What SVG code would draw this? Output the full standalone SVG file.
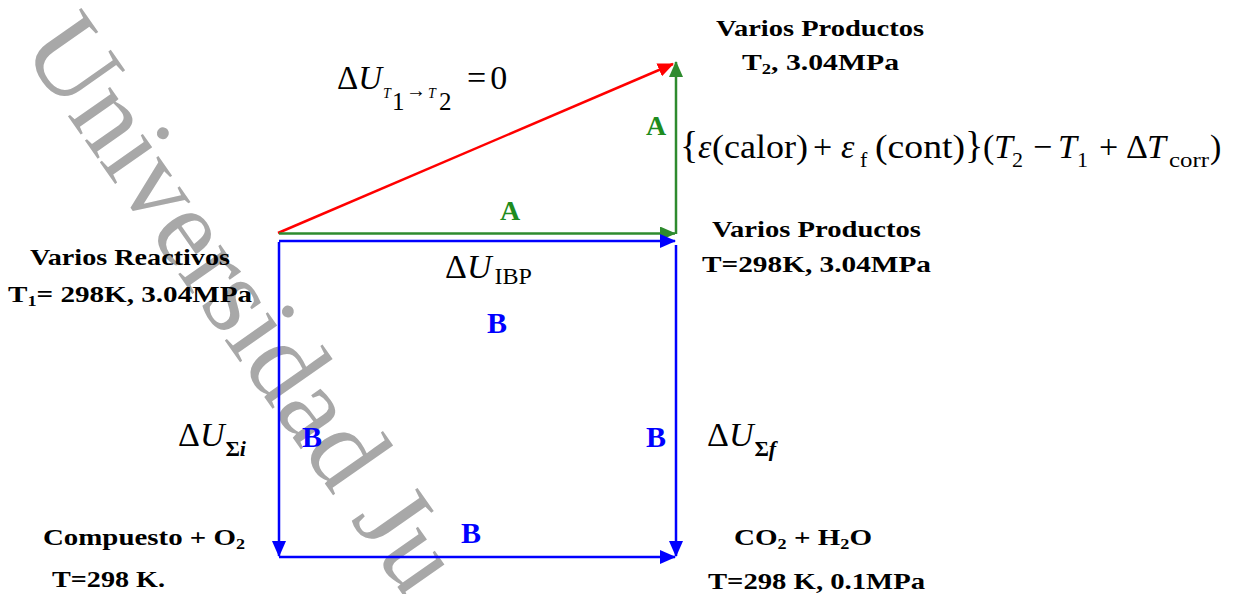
<svg xmlns="http://www.w3.org/2000/svg" width="1234" height="594" viewBox="0 0 1234 594">
<defs>
<marker id="ah-red" markerUnits="userSpaceOnUse" viewBox="0 0 16 14" refX="15" refY="7" markerWidth="16" markerHeight="14" orient="auto"><path d="M0,0 L16,7 L0,14 z" fill="#ff0000"/></marker>
<marker id="ah-green" markerUnits="userSpaceOnUse" viewBox="0 0 16 14" refX="15" refY="7" markerWidth="16" markerHeight="14" orient="auto"><path d="M0,0 L16,7 L0,14 z" fill="#2e8b2e"/></marker>
<marker id="ah-blue" markerUnits="userSpaceOnUse" viewBox="0 0 16 14" refX="15" refY="7" markerWidth="16" markerHeight="14" orient="auto"><path d="M0,0 L16,7 L0,14 z" fill="#0000ff"/></marker>
</defs>
<style>
text{font-family:'Liberation Serif','DejaVu Serif','Times New Roman',serif}
.lbl{font-weight:bold;font-size:24px;fill:#000}
.math{font-size:34px;fill:#000}
.it{font-style:italic}
.A{font-weight:bold;font-size:28px;fill:#1e8c1e;text-anchor:middle}
.B{font-weight:bold;font-size:30px;fill:#0000ff;text-anchor:middle}
.wm{font-size:112px;fill:#a8a8a8}
.ln{fill:none;stroke-width:2.5}
.red{stroke:#ff0000}
.green{stroke:#2e8b2e}
.blue{stroke:#0000ff}
</style>
<rect width="1234" height="594" fill="#ffffff"/>
<g id="watermark">
<text class="wm" transform="translate(20,48) rotate(55)">Universidad Ju</text>
</g>
<g id="connectors">
<path class="ln red" d="M278,233 L673,64" marker-end="url(#ah-red)"/>
<path class="ln green" d="M279,233.5 L675,233.5" marker-end="url(#ah-green)"/>
<path class="ln green" d="M676,234 L676,62" marker-end="url(#ah-green)"/>
<path class="ln blue" d="M279,241 L675,241" marker-end="url(#ah-blue)"/>
<path class="ln blue" d="M279,242 L279,556" marker-end="url(#ah-blue)"/>
<path class="ln blue" d="M279,557 L675,557" marker-end="url(#ah-blue)"/>
<path class="ln blue" d="M676,245 L676,556" marker-end="url(#ah-blue)"/>
</g>
<g id="node-productos-t2">
<text class="lbl" x="716" y="36" textLength="208" lengthAdjust="spacingAndGlyphs">Varios Productos</text>
<text class="lbl" x="742" y="70" textLength="157" lengthAdjust="spacingAndGlyphs">T<tspan font-size="15" dy="4">2</tspan><tspan dy="-4">, 3.04MPa</tspan></text>
</g>
<g id="node-productos-298">
<text class="lbl" x="712" y="237" textLength="209" lengthAdjust="spacingAndGlyphs">Varios Productos</text>
<text class="lbl" x="702" y="272" textLength="229" lengthAdjust="spacingAndGlyphs">T=298K, 3.04MPa</text>
</g>
<g id="node-reactivos">
<text class="lbl" x="30" y="265" textLength="200" lengthAdjust="spacingAndGlyphs">Varios Reactivos</text>
<text class="lbl" x="8" y="302" textLength="244" lengthAdjust="spacingAndGlyphs">T<tspan font-size="15" dy="4">1</tspan><tspan dy="-4">= 298K, 3.04MPa</tspan></text>
</g>
<g id="node-compuesto">
<text class="lbl" x="43" y="545" textLength="202" lengthAdjust="spacingAndGlyphs">Compuesto + O<tspan font-size="15" dy="4">2</tspan></text>
<text class="lbl" x="52" y="587" textLength="113" lengthAdjust="spacingAndGlyphs">T=298 K.</text>
</g>
<g id="node-co2">
<text class="lbl" x="734" y="545" textLength="138" lengthAdjust="spacingAndGlyphs">CO<tspan font-size="15" dy="4">2</tspan><tspan dy="-4"> + H</tspan><tspan font-size="15" dy="4">2</tspan><tspan dy="-4">O</tspan></text>
<text class="lbl" x="708" y="589" textLength="217" lengthAdjust="spacingAndGlyphs">T=298 K, 0.1MPa</text>
</g>
<g id="label-dU-T1T2">
<text class="math"><tspan x="337" y="89" font-size="33">Δ</tspan><tspan class="it" font-size="33">U</tspan><tspan class="it" x="383" y="98" font-size="14">T</tspan><tspan x="392" y="110" font-size="25">1</tspan><tspan x="406" y="97" font-size="20">→</tspan><tspan class="it" x="428" y="98" font-size="14">T</tspan><tspan x="439" y="110" font-size="25">2</tspan><tspan x="467" y="89" font-size="34" letter-spacing="4">=0</tspan></text>
</g>
<g id="label-formula">
<text class="math" font-size="36"><tspan x="680" y="158" font-size="38">{</tspan><tspan class="it" x="698" y="158">ε</tspan><tspan x="712" y="158" textLength="96" lengthAdjust="spacingAndGlyphs">(calor)</tspan><tspan x="813" y="158">+</tspan><tspan class="it" x="841" y="158">ε</tspan><tspan x="860" y="167" font-size="22">f</tspan><tspan x="875" y="158" textLength="90" lengthAdjust="spacingAndGlyphs">(cont)</tspan><tspan x="965" y="158" font-size="38">}</tspan><tspan x="983" y="158">(</tspan><tspan class="it" x="994" y="158">T</tspan><tspan x="1012" y="167" font-size="22">2</tspan><tspan x="1033" y="158">−</tspan><tspan class="it" x="1058" y="158">T</tspan><tspan x="1077" y="167" font-size="22">1</tspan><tspan x="1099" y="158">+</tspan><tspan x="1126" y="158">Δ</tspan><tspan class="it" x="1147" y="158">T</tspan><tspan x="1169" y="167" font-size="22" textLength="40" lengthAdjust="spacingAndGlyphs">corr</tspan><tspan x="1210" y="158">)</tspan></text>
</g>
<g id="label-dU-IBP">
<text class="math" font-size="38" x="445" y="278">Δ<tspan class="it">U</tspan><tspan dx="3" dy="6" font-size="24">IBP</tspan></text>
</g>
<g id="label-dU-Si">
<text class="math" font-size="38" x="178" y="446">Δ<tspan class="it">U</tspan><tspan dx="1" dy="10" font-size="22" font-weight="bold">Σ</tspan><tspan class="it" font-size="22" font-weight="bold">i</tspan></text>
</g>
<g id="label-dU-Sf">
<text class="math" font-size="38" x="707" y="446">Δ<tspan class="it">U</tspan><tspan dx="1" dy="10" font-size="22" font-weight="bold">Σ</tspan><tspan class="it" font-size="22" font-weight="bold">f</tspan></text>
</g>
<g id="labels-A">
<text class="A" x="510" y="220">A</text>
<text class="A" x="656" y="135">A</text>
</g>
<g id="labels-B">
<text class="B" x="497" y="333">B</text>
<text class="B" x="312" y="447">B</text>
<text class="B" x="656" y="447">B</text>
<text class="B" x="471" y="543">B</text>
</g>
</svg>
